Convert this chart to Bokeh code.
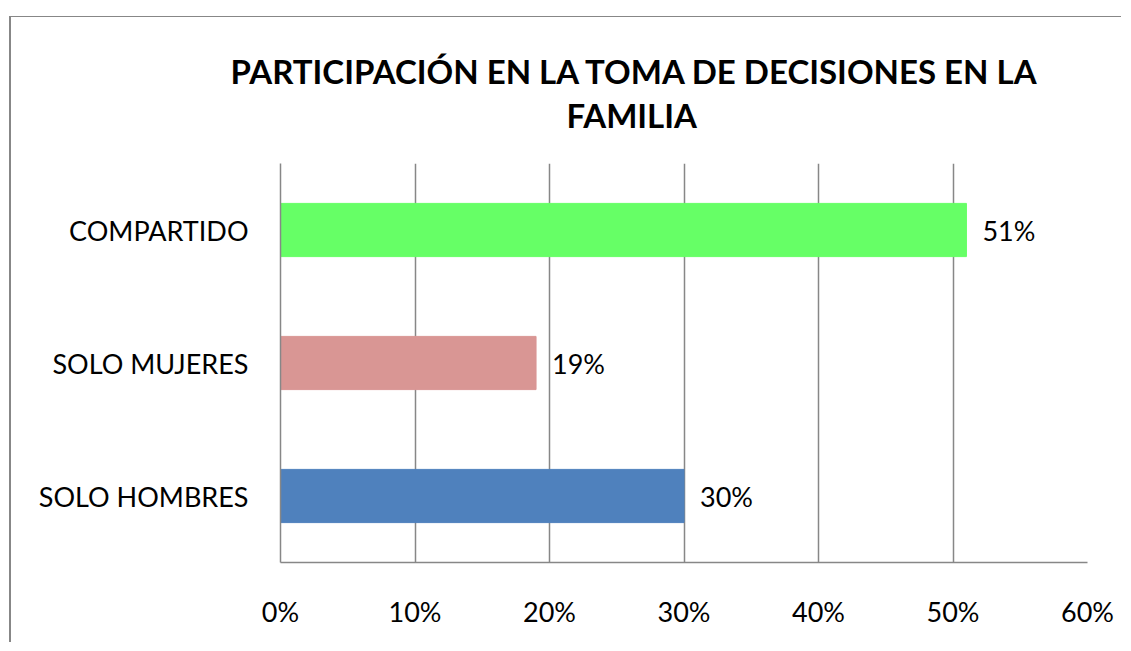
from bokeh.plotting import figure
from bokeh.models import ColumnDataSource, LabelSet, Title, FixedTicker, NumeralTickFormatter, Range1d
from bokeh.core.properties import value
from bokeh.embed import file_html
from bokeh.resources import INLINE

categories = ["SOLO HOMBRES", "SOLO MUJERES", "COMPARTIDO"]
values = [0.30, 0.19, 0.51]
value_labels = ["30%", "19%", "51%"]
colors = ["#4F81BD", "#D99694", "#66FF66"]
x_ticks = [0, 0.1, 0.2, 0.3, 0.4, 0.5, 0.6]
title_lines = ["PARTICIPACIÓN EN LA TOMA DE DECISIONES EN LA", "FAMILIA"]

src = ColumnDataSource(dict(cat=categories, val=values, lab=value_labels, col=colors))

FONT = "Lato"
GRID = "#878787"

p = figure(
    width=1112, height=626,
    y_range=categories, x_range=Range1d(0, 0.6),
    output_backend="svg", toolbar_location=None,
    min_border_left=269, min_border_right=36, min_border_top=146, min_border_bottom=81,
)
p.margin = (16, 0, 0, 9)
p.styles = {
    "border-top": "1px solid #878787", "border-left": "2px solid #878787",
}

p.hbar(y="cat", right="val", left=0, height=0.4, color="col", source=src)

labels = LabelSet(x="val", y="cat", text="lab", source=src, x_offset=16,
                  text_baseline="middle", text_font_size="27px", text_font=value(FONT),
                  text_color="#000000")
p.add_layout(labels)

spacer = Title(text=" ", align="left", standoff=26, text_font_size="1px",
               text_line_height=1.0)
t2 = Title(text=title_lines[1], align="left", offset=286, standoff=0,
           text_font=FONT, text_font_size="33px", text_font_style="bold",
           text_line_height=1.0, text_color="#000000")
t1 = Title(text=title_lines[0], align="left", offset=-50, standoff=4,
           text_font=FONT, text_font_size="33px", text_font_style="bold",
           text_line_height=1.0, text_color="#000000")
p.add_layout(spacer, "above")
p.add_layout(t2, "above")
p.add_layout(t1, "above")

p.outline_line_color = None
p.xgrid.ticker = FixedTicker(ticks=x_ticks)
p.xgrid.grid_line_color = GRID
p.xgrid.grid_line_width = 1.5
p.ygrid.grid_line_color = None

p.xaxis.ticker = FixedTicker(ticks=x_ticks)
p.xaxis.formatter = NumeralTickFormatter(format="0%")
p.xaxis.major_label_text_font = FONT
p.xaxis.major_label_text_font_size = "27px"
p.xaxis.major_label_text_color = "#000000"
p.xaxis.major_label_standoff = 26
p.xaxis.axis_line_color = GRID
p.xaxis.axis_line_width = 1.5
p.xaxis.major_tick_line_color = None
p.xaxis.minor_tick_line_color = None

p.yaxis.major_label_text_font = FONT
p.yaxis.major_label_text_font_size = "27px"
p.yaxis.major_label_text_color = "#000000"
p.yaxis.major_label_standoff = 26
p.yaxis.axis_line_color = GRID
p.yaxis.axis_line_width = 1.5
p.yaxis.major_tick_line_color = None
p.yaxis.minor_tick_line_color = None

open("out.html", "w").write(file_html(p, INLINE))
